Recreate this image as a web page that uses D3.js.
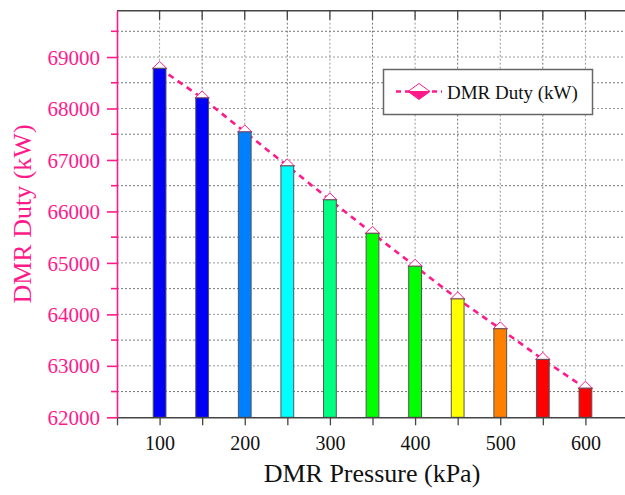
<!DOCTYPE html>
<html>
<head>
<meta charset="utf-8">
<script src="https://cdn.jsdelivr.net/npm/d3@7"></script>
<style>
html,body{margin:0;padding:0;background:#fff;overflow:hidden;}
svg{display:block;font-family:"Liberation Serif","Times New Roman",serif;}
</style>
</head>
<body>
<svg id="chart" width="625" height="495"></svg>
<script>
const pressures = [100, 150, 200, 250, 300, 350, 400, 450, 500, 550, 600];
const duty = [68780, 68205, 67545, 66885, 66225, 65575, 64935, 64300, 63720, 63125, 62565];
const barColors = ["#0000F5", "#0000F5", "#0080FF", "#00FFFF", "#00FF80", "#00FF00", "#00FF00", "#FFFF00", "#FF8000", "#FF0000", "#FF0000"];
const xTickLabels = [100, 200, 300, 400, 500, 600];
const yTickLabels = [62000, 63000, 64000, 65000, 66000, 67000, 68000, 69000];
const seriesName = "DMR Duty (kW)";
const xTitle = "DMR Pressure (kPa)";
const yTitle = "DMR Duty (kW)";

const pink = "#FF1A8C";
const svg = d3.select("#chart");
const L = 117, R = 628, T = 10.7, B = 417.3;
const x = d3.scaleLinear().domain([50, 650]).range([L, R]);
const y = d3.scaleLinear().domain([62000, 69900]).range([B, T]);

// gridlines
const xGrid = d3.range(50, 651, 50);
const yGrid = d3.range(62500, 69900, 500);
const g = svg.append("g");
g.selectAll(".vg").data(xGrid.filter(v => v > 50)).join("line")
  .attr("x1", d => x(d)).attr("x2", d => x(d)).attr("y1", T).attr("y2", B)
  .attr("stroke", d => d % 100 === 0 ? "#999" : "#777").attr("stroke-width", 1).attr("stroke-dasharray", "2,2");
g.selectAll(".hg").data(yGrid).join("line")
  .attr("x1", L).attr("x2", R).attr("y1", d => y(d)).attr("y2", d => y(d))
  .attr("stroke", d => d % 1000 === 0 ? "#999" : "#777").attr("stroke-width", 1).attr("stroke-dasharray", "2,2");

// line + markers (behind bars)
const line = d3.line().x((d, i) => x(pressures[i])).y(d => y(d));
svg.append("path").datum(duty).attr("d", line)
  .attr("fill", "none").attr("stroke", pink).attr("stroke-width", 2.6).attr("stroke-dasharray", "6,5");

function marker(sel, cx, cy, hw, hh) {
  sel.append("path").attr("d", `M${cx - hw},${cy} L${cx},${cy + hh} L${cx + hw},${cy} Z`).attr("fill", pink).attr("stroke", pink).attr("stroke-width", 1);
  sel.append("path").attr("d", `M${cx - hw},${cy} L${cx},${cy - hh} L${cx + hw},${cy} Z`).attr("fill", "#fff").attr("stroke", pink).attr("stroke-width", 1);
}
const mg = svg.append("g");
duty.forEach((d, i) => marker(mg, x(pressures[i]), y(d), 7, 7));

// bars
const bw = 15;
svg.append("g").selectAll("rect").data(duty).join("rect")
  .attr("x", (d, i) => x(pressures[i] - bw / 2))
  .attr("width", (d, i) => x(pressures[i] + bw / 2) - x(pressures[i] - bw / 2))
  .attr("y", d => y(d)).attr("height", d => B - y(d))
  .attr("fill", (d, i) => barColors[i]).attr("stroke", "#555").attr("stroke-width", 1);

// top border + top ticks
svg.append("line").attr("x1", L).attr("x2", R).attr("y1", T).attr("y2", T).attr("stroke", "#444").attr("stroke-width", 1.5);
svg.append("g").selectAll("line").data(xGrid.filter(v => v > 50)).join("line")
  .attr("x1", d => x(d)).attr("x2", d => x(d)).attr("y1", T).attr("y2", T + 9)
  .attr("stroke", "#444").attr("stroke-width", 1.3);

// bottom axis
const xAxis = svg.append("g").attr("transform", `translate(0,${B})`)
  .call(d3.axisBottom(x).tickValues(xGrid).tickSize(8).tickSizeOuter(0)
    .tickFormat(d => xTickLabels.includes(d) ? d : ""));
xAxis.select(".domain").attr("stroke", "#444").attr("stroke-width", 1.5);
xAxis.selectAll(".tick line").attr("stroke", "#444").attr("stroke-width", 1.3);
xAxis.selectAll(".tick text").attr("font-size", 20).attr("fill", "#111").attr("font-family", "Liberation Serif, serif").attr("dy", 0).attr("y", 33);

// left axis
const yAxis = svg.append("g").attr("transform", `translate(${L},0)`)
  .call(d3.axisLeft(y).tickValues(yTickLabels).tickSize(10).tickSizeOuter(0).tickFormat(d => d));
yAxis.select(".domain").attr("stroke", pink).attr("stroke-width", 1.6);
yAxis.selectAll(".tick line").attr("stroke", pink).attr("stroke-width", 1.6);
yAxis.selectAll(".tick text").attr("font-size", 21).attr("fill", pink).attr("font-family", "Liberation Serif, serif").attr("x", -17).attr("dy", "0.34em");
svg.append("g").selectAll("line").data(d3.range(62500, 69900, 1000)).join("line")
  .attr("x1", L - 6).attr("x2", L).attr("y1", d => y(d)).attr("y2", d => y(d))
  .attr("stroke", pink).attr("stroke-width", 1.6);

// titles
svg.append("text").attr("x", 372).attr("y", 482).attr("text-anchor", "middle")
  .attr("font-size", 26).attr("fill", "#111").text(xTitle);
svg.append("text").attr("transform", `translate(31,${(T + B) / 2}) rotate(-90)`).attr("text-anchor", "middle")
  .attr("font-size", 26).attr("fill", pink).text(yTitle);

// legend
const lg = svg.append("g");
lg.append("rect").attr("x", 383.5).attr("y", 69.5).attr("width", 209).attr("height", 45)
  .attr("fill", "#fff").attr("stroke", "#666").attr("stroke-width", 1.5);
lg.append("line").attr("x1", 396).attr("x2", 442).attr("y1", 91.5).attr("y2", 91.5)
  .attr("stroke", pink).attr("stroke-width", 2.6).attr("stroke-dasharray", "5,4");
marker(lg, 419, 91.5, 11, 8);
lg.append("text").attr("x", 447).attr("y", 98.5).attr("font-size", 19).attr("fill", "#111").text(seriesName);
</script>
</body>
</html>
